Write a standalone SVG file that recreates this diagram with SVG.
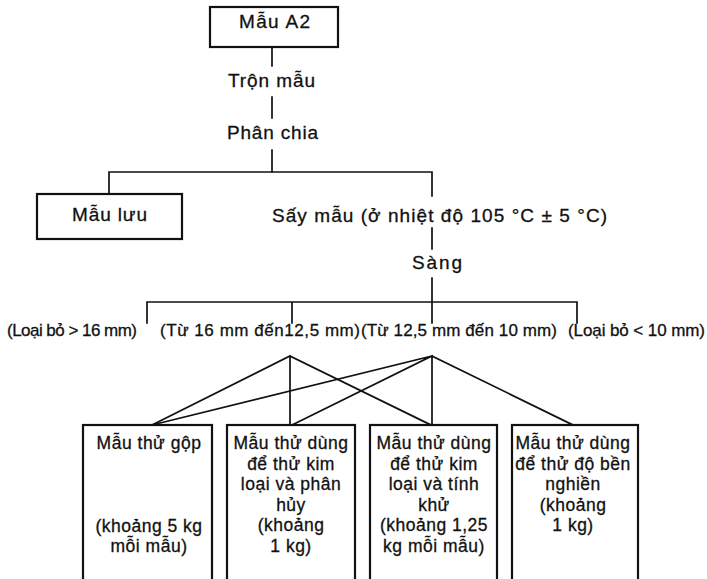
<svg xmlns="http://www.w3.org/2000/svg" width="707" height="579" viewBox="0 0 707 579">
<style>
  .bg { fill: #ffffff; }
  .box { fill: #ffffff; stroke: #111; stroke-width: 2.2; }
  .ln { fill: none; stroke: #111; stroke-width: 1.7; stroke-linecap: square; }
  .t { font-family: "Liberation Sans", Arial, sans-serif; fill: #111; stroke: #111; stroke-width: 0.3; }
  .top { font-size: 19px; }
  .rng { font-size: 17px; }
  .bx { font-size: 17.5px; letter-spacing: 0.5px; text-anchor: middle; }
</style>
<rect class="bg" x="0" y="0" width="707" height="579"/>

<g id="connectors">
  <path class="ln" d="M272 48 V66 M272 97 V118 M272 150 V172"/>
  <path class="ln" d="M109 194 V172 H432 V196 M432 228 V249 M432 278 V323"/>
  <path class="ln" d="M147 323 V302 H577 V323 M292 302 V323"/>
  <path class="ln" d="M290 356 L152 425 M290 356 L290 425 M290 356 L431 425"/>
  <path class="ln" d="M432 356 L152 425 M432 356 L292 425 M432 356 L432 425 M432 356 L573 425"/>
</g>

<g id="node-mau-a2">
  <rect class="box" x="210" y="7" width="128" height="40"/>
  <text class="t top" x="239" y="28" textLength="71" lengthAdjust="spacing">Mẫu A2</text>
</g>
<g id="node-tron-mau">
  <text class="t top" x="228" y="87" textLength="87" lengthAdjust="spacing">Trộn mẫu</text>
</g>
<g id="node-phan-chia">
  <text class="t top" x="227" y="139" textLength="91" lengthAdjust="spacing">Phân chia</text>
</g>
<g id="node-mau-luu">
  <rect class="box" x="37" y="194" width="145" height="45"/>
  <text class="t top" x="72" y="221" textLength="75" lengthAdjust="spacing">Mẫu lưu</text>
</g>
<g id="node-say-mau">
  <text class="t top" x="272" y="222" textLength="335" lengthAdjust="spacing">Sấy mẫu (ở nhiệt độ 105 °C ± 5 °C)</text>
</g>
<g id="node-sang">
  <text class="t top" x="412" y="269" textLength="50" lengthAdjust="spacing">Sàng</text>
</g>

<g id="node-loai-bo-16">
  <text class="t rng" x="7" y="336" textLength="130" lengthAdjust="spacing">(Loại bỏ &gt; 16 mm)</text>
</g>
<g id="node-tu-16">
  <text class="t rng" x="160" y="336" textLength="200" lengthAdjust="spacing">(Từ 16 mm đến12,5 mm)</text>
</g>
<g id="node-tu-12-5">
  <text class="t rng" x="361" y="336" textLength="196" lengthAdjust="spacing">(Từ 12,5 mm đến 10 mm)</text>
</g>
<g id="node-loai-bo-10">
  <text class="t rng" x="568" y="336" textLength="137" lengthAdjust="spacing">(Loại bỏ &lt; 10 mm)</text>
</g>

<g id="node-mau-thu-gop">
  <rect class="box" x="83" y="425" width="129" height="170"/>
  <text class="t bx" x="149" y="449">Mẫu thử gộp</text>
  <text class="t bx" x="149" y="532">(khoảng 5 kg</text>
  <text class="t bx" x="149" y="552">mỗi mẫu)</text>
</g>
<g id="node-mau-phan-huy">
  <rect class="box" x="227" y="425" width="128" height="170"/>
  <text class="t bx" x="291" y="449">Mẫu thử dùng</text>
  <text class="t bx" x="291" y="470">để thử kim</text>
  <text class="t bx" x="291" y="490">loại và phân</text>
  <text class="t bx" x="291" y="511">hủy</text>
  <text class="t bx" x="291" y="531">(khoảng</text>
  <text class="t bx" x="291" y="552">1 kg)</text>
</g>
<g id="node-mau-tinh-khu">
  <rect class="box" x="370" y="425" width="127" height="170"/>
  <text class="t bx" x="434" y="449">Mẫu thử dùng</text>
  <text class="t bx" x="434" y="470">để thử kim</text>
  <text class="t bx" x="434" y="490">loại và tính</text>
  <text class="t bx" x="434" y="511">khử</text>
  <text class="t bx" x="434" y="531">(khoảng 1,25</text>
  <text class="t bx" x="434" y="552">kg mỗi mẫu)</text>
</g>
<g id="node-mau-do-ben">
  <rect class="box" x="512" y="425" width="126" height="170"/>
  <text class="t bx" x="573" y="449">Mẫu thử dùng</text>
  <text class="t bx" x="573" y="470">để thử độ bền</text>
  <text class="t bx" x="573" y="490">nghiền</text>
  <text class="t bx" x="573" y="511">(khoảng</text>
  <text class="t bx" x="573" y="531">1 kg)</text>
</g>
</svg>
